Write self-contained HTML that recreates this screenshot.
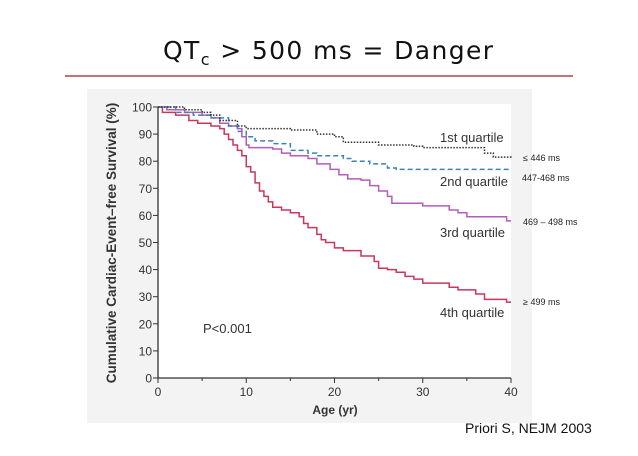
<!DOCTYPE html>
<html><head><meta charset="utf-8"><style>
body{margin:0;background:#fff;width:638px;height:451px;overflow:hidden;font-family:"Liberation Sans",sans-serif;}
</style></head><body>
<svg width="638" height="451" xmlns="http://www.w3.org/2000/svg">
<text x="163" y="59" font-size="25" fill="#111" font-family="DejaVu Sans, sans-serif" textLength="330" lengthAdjust="spacing">QT<tspan font-size="16" dy="6">c</tspan><tspan dy="-6"> &gt; 500 ms = Danger</tspan></text>
<line x1="65" y1="76" x2="573" y2="76" stroke="#b0454a" stroke-width="1.5"/>
<rect x="87" y="89" width="445" height="334" fill="#f3f3f3"/>
<rect x="158" y="104" width="353" height="274" fill="#fff"/>
<g id="chart"></g>
<text transform="translate(116,243) rotate(-90)" text-anchor="middle" font-size="13.5" font-weight="bold" fill="#333">Cumulative Cardiac-Event–free Survival (%)</text>
<text x="335" y="414" text-anchor="middle" font-size="12" font-weight="bold" fill="#333">Age (yr)</text>
<text x="203" y="333" font-size="13" fill="#333">P&lt;0.001</text>
<text x="440" y="142" font-size="13" fill="#333">1st quartile</text>
<text x="440" y="186" font-size="13" fill="#333">2nd quartile</text>
<text x="440" y="237" font-size="13" fill="#333">3rd quartile</text>
<text x="440" y="317" font-size="13" fill="#333">4th quartile</text>
<g font-size="9" fill="#222">
<text x="523" y="161">≤ 446 ms</text>
<text x="522" y="181">447-468 ms</text>
<text x="523" y="225">469 – 498 ms</text>
<text x="523" y="305">≥ 499 ms</text>
</g>
<text x="465" y="433" font-size="14" fill="#111">Priori S, NEJM 2003</text>
</svg>
<script>
const xTicks=[0,10,20,30,40];
const yTicks=[0,10,20,30,40,50,60,70,80,90,100];
const q1Ages=[0,3,5,6,7,9,10,15,18,20,21,25,29,30,37,38,40];
const q1Surv=[100,99,98,97,95,93,92,91.5,90,89,87,86,85.5,85,83,81.5,81];
const q2Ages=[0,2,4,6,8,9,10,11,13,15,17,18,21,22,24,26,27,40];
const q2Surv=[100,98,97,96,93,91,89,87.5,86.5,84,83,82,81,80,79,77.5,77,77];
const q3Ages=[0,1,3,5,6,7,8,9,9.5,10,10.3,13,14,15,17,18,19.5,20.5,21.5,23,24,25,26,26.5,30,33,34,35,39.5,40];
const q3Surv=[100,99,98,97,96,94,93,92,89,86,85,84.5,83,82,81,79,77,75,73.5,73,71,69,67,64.5,63.5,62,61,59.5,58,58];
const q4Ages=[0,0.5,2,3.5,4.5,6,7,7.5,8,8.5,9,9.5,10,10.5,11,11.5,12,12.5,13,14,15,16,16.5,17,18,18.5,19,20,21,23,24.5,25,26,27,28,29,30,33,34,36,37,39.5,40];
const q4Surv=[100,98,97,95,94,93,92,90,88,86,84,82,78,76,72,69,67,65,63,62,61,59.5,57,55.5,53,51,50,48,47,45,43,40.5,40,39,37.5,36.5,35,33.5,32.5,31,29,28,28];
const NS="http://www.w3.org/2000/svg";
const g=document.getElementById('chart');
const X=v=>158+v*(353/40), Y=v=>378-v*(271/100);
function el(t,a){const e=document.createElementNS(NS,t);for(const k in a)e.setAttribute(k,a[k]);g.appendChild(e);return e;}
let ax=el('path',{d:`M${X(0)},${Y(100)}V${Y(0)}H${X(40)}`,fill:'none',stroke:'#333','stroke-width':1.3});


yTicks.forEach(v=>{
 const t=el('line',{x1:X(0)-5,x2:X(0),y1:Y(v),y2:Y(v),stroke:'#333'});
 
 
 const l=el('text',{x:X(0)-6,y:Y(v)+4.5,'text-anchor':'end','font-size':12,fill:'#333'});
 
 
 l.textContent=v;
});
for(let v=0;v<=40;v+=5){
 const t=el('line',{x1:X(v),x2:X(v),y1:Y(0),y2:Y(0)+(v%10?3:5),stroke:'#333'});
 
 
}
xTicks.forEach(v=>{
 const l=el('text',{x:X(v),y:Y(0)+18,'text-anchor':'middle','font-size':12,fill:'#333'});
 
 
 l.textContent=v;
});
function step(a,s){let d=`M${X(a[0])},${Y(s[0])}`;for(let i=1;i<a.length;i++)d+=`H${X(a[i])}V${Y(s[i])}`;return d;}
const series=[[q4Ages,q4Surv,'#c8385a','none','series-4th-quartile'],[q3Ages,q3Surv,'#b45cba','none','series-3rd-quartile'],[q2Ages,q2Surv,'#3c82b4','5 3','series-2nd-quartile'],[q1Ages,q1Surv,'#333','1.5 1.5','series-1st-quartile']];
series.forEach(s=>{
 const p=el('path',{d:step(s[0],s[1]),fill:'none',stroke:s[2],'stroke-width':1.5,'stroke-dasharray':s[3]});
 
 
});
</script>
</body></html>
